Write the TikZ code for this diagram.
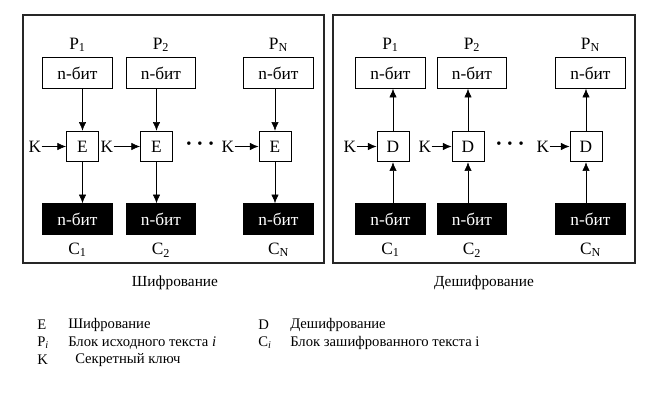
\documentclass[tikz,border=0pt]{standalone}
\usepackage{fontspec}
\setmainfont{Liberation Serif}
\usetikzlibrary{arrows.meta}

\begin{document}
\begin{tikzpicture}[
    x=0.75pt, y=-0.75pt,
    >={Latex[length=6.5pt,width=5.5pt]},
    every node/.style={font=\fontsize{13}{15}\selectfont, inner sep=0pt},
    ptbox/.style={draw, line width=0.7pt, minimum width=52pt, minimum height=23pt},
    ctbox/.style={ptbox, fill=black, text=white},
    opbox/.style={draw, line width=0.7pt, minimum width=24pt, minimum height=23pt},
    frame/.style={line width=1.1pt, draw=black!85},
    dots/.style={font=\fontsize{11}{11}\selectfont},
    legend/.style={anchor=west, font=\fontsize{11}{13}\selectfont}
  ]
  \useasboundingbox (0,0) rectangle (647,407);

  % encryption
  \draw[frame] (23,15) rectangle (324,263);
  \foreach \i/\bx/\ox/\kx/\n in {1/77.5/82.5/35/1, 2/161/156.5/107/2, 3/278.5/275/228/N} {
    \node (encP\i) at (\bx,45) {P\textsubscript{\n}};
    \node[ptbox] (encIn\i) at (\bx,73) {n-бит};
    \node[opbox] (encOp\i) at (\ox,146.5) {E};
    \node[ctbox] (encOut\i) at (\bx,219) {n-бит};
    \node (encC\i) at (\bx,250) {C\textsubscript{\n}};
    \node (encK\i) at (\kx,146.5) {K};
    \draw[->] (encOp\i.north |- encIn\i.south) -- (encOp\i.north);
    \draw[->] (encOp\i.south) -- (encOp\i.south |- encOut\i.north);
    \draw[->] (encK\i) -- (encOp\i);
  }
  \node[dots] (encDots) at (200,145) {\textbullet\hspace{4.5pt}\textbullet\hspace{4.5pt}\textbullet};
  \node[font=\fontsize{11.5}{13}\selectfont] (encTitle) at (175,283) {Шифрование};

  % decryption
  \draw[frame] (333,15) rectangle (635,263);
  \foreach \i/\bx/\ox/\kx/\n in {1/390.5/393/350/1, 2/472/468/425/2, 3/590.5/586/543/N} {
    \node (decP\i) at (\bx,45) {P\textsubscript{\n}};
    \node[ptbox] (decOut\i) at (\bx,73) {n-бит};
    \node[opbox] (decOp\i) at (\ox,146.5) {D};
    \node[ctbox] (decIn\i) at (\bx,219) {n-бит};
    \node (decC\i) at (\bx,250) {C\textsubscript{\n}};
    \node (decK\i) at (\kx,146.5) {K};
    \draw[->] (decOp\i.north) -- (decOp\i.north |- decOut\i.south);
    \draw[->] (decOp\i.south |- decIn\i.north) -- (decOp\i.south);
    \draw[->] (decK\i) -- (decOp\i);
  }
  \node[dots] (decDots) at (510,145) {\textbullet\hspace{4.5pt}\textbullet\hspace{4.5pt}\textbullet};
  \node[font=\fontsize{11.5}{13}\selectfont] (decTitle) at (484,283) {Дешифрование};

  % legend
  \node[legend] (legE) at (37,325) {E};
  \node[legend] (legEtxt) at (68,325) {Шифрование};
  \node[legend] (legD) at (258,325) {D};
  \node[legend] (legDtxt) at (290,325) {Дешифрование};
  \node[legend] (legP) at (37,343) {P\textsubscript{\textit{i}}};
  \node[legend] (legPtxt) at (68,343) {Блок исходного текста \textit{i}};
  \node[legend] (legC) at (258,343) {C\textsubscript{\textit{i}}};
  \node[legend] (legCtxt) at (290,343) {Блок зашифрованного текста i};
  \node[legend] (legK) at (37,360) {K};
  \node[legend] (legKtxt) at (75,360) {Секретный ключ};
\end{tikzpicture}
\end{document}
